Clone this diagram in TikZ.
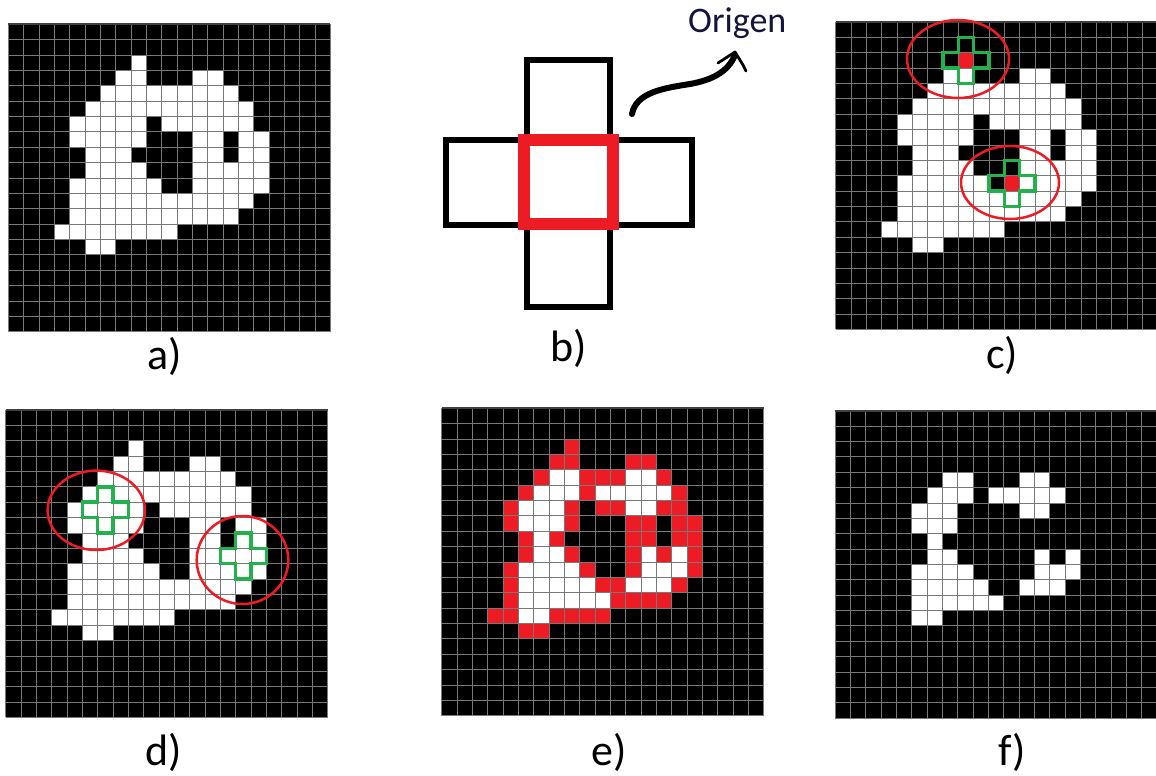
\documentclass[tikz,border=0pt]{standalone}
\usepackage{fontspec}
\setmainfont{Carlito}
\definecolor{pred}{HTML}{ED1C24}
\definecolor{pgreen}{HTML}{22B14C}
\definecolor{gridc}{HTML}{787878}
\definecolor{origc}{HTML}{14143C}
\tikzset{
  gridline/.style={draw=gridc, line width=0.8pt},
  topline/.style={draw=black!75, line width=2pt},
  lab/.style={font=\fontsize{44}{50}\selectfont, anchor=base, inner sep=0pt},
  crossline/.style={draw=pgreen, line width=3.5pt, line join=miter},
  ring/.style={draw=pred, line width=2.5pt},
  boxline/.style={draw=black, line width=6.7pt},
  redbox/.style={draw=pred, line width=11.7pt},
}
\newcommand\shapeA{2/8/8,3/7/8,3/12/13,4/6/14,5/5/15,6/4/8,6/10/15,7/4/8,7/12/13,7/15/16,8/5/7,8/12/13,8/15/16,9/5/8,9/12/16,10/4/9,10/12/16,11/4/15,12/4/14,13/3/10,14/5/6}
\newcommand\shapeE{4/7/8,4/12/13,5/6/8,5/10/14,6/5/7,6/12/13,7/5/7,8/6/6,9/6/7,9/13/13,9/15/15,10/5/8,10/13/15,11/5/9,11/12/14,12/5/10,13/5/6}
\newcommand\gridbase{\fill[black] (0,0) rectangle (21,20);}
\newcommand\gridlines{%
  \foreach \i in {0,...,21} \draw[gridline] (\i,0)--(\i,20);
  \foreach \j in {0,...,20} \draw[gridline] (0,\j)--(21,\j);
  \draw[topline] (0,0)--(21,0);}
\newcommand\cells[2]{\foreach \r/\a/\b in #2 {\fill[#1] (\a,\r) rectangle ({\b+1},{\r+1});}}
\newcommand\crossat[2]{%
  \draw[crossline] (#1,#2-1) -- ++(1,0) -- ++(0,1) -- ++(1,0) -- ++(0,1) -- ++(-1,0) -- ++(0,1) -- ++(-1,0) -- ++(0,-1) -- ++(-1,0) -- ++(0,-1) -- ++(1,0) -- cycle;}
\begin{document}
\begin{tikzpicture}[x=1pt,y=-1pt]
\useasboundingbox (0,0) rectangle (1156,776);
\fill[white] (0,0) rectangle (1156,776);
\clip (0,0) rectangle (1156,776);

% a)
\begin{scope}[shift={(8.3pt,-24.3pt)}, x=15.33pt, y=-15.37pt]
  \gridbase \cells{white}{\shapeA} \gridlines
\end{scope}
\node[lab] (la) at (165,369) {a)};

% b)
\draw[boxline] (527,60) rectangle (610,140);
\draw[boxline] (446,140) rectangle (525,225);
\draw[boxline] (611,140) rectangle (692,225);
\draw[boxline] (527,224) rectangle (610,307);
\draw[redbox] (524,140) rectangle (613,224);
\node[font=\fontsize{36}{40}\selectfont, text=origc, anchor=base west, inner sep=0pt] (origen) at (688,33) {Origen};
\coordinate (arrS) at (632,114);
\coordinate (arrE) at (735,55);
\draw[line width=6pt, line cap=round] (arrS) .. controls (636,92) and (665,88) .. (690,84) .. controls (712,80) and (728,72) .. (arrE);
\draw[line width=2.8pt, line cap=round, line join=round] (718,63) -- (735,52) -- (743,65) -- (746,71);
\node[lab] (lb) at (569,361) {b)};

% c)
\begin{scope}[shift={(835.7pt,-22pt)}, x=15.33pt, y=-15.37pt]
  \gridbase \cells{white}{\shapeA}
  \fill[pred] (8,2) rectangle (9,3);
  \fill[pred] (11,10) rectangle (12,11);
  \gridlines
  \crossat{8}{2}
  \crossat{11}{10}
\end{scope}
\draw[ring] (958,59) ellipse [x radius=51pt, y radius=39pt];
\draw[ring] (1010,182.5) ellipse [x radius=49pt, y radius=36.5pt];
\node[lab] (lc) at (1002,368) {c)};

% d)
\begin{scope}[shift={(5.7pt,-410pt)}, x=15.33pt, y=-15.37pt]
  \gridbase \cells{white}{\shapeA} \gridlines
  \crossat{6}{6}
  \crossat{15}{9}
\end{scope}
\draw[ring] (96.3,510.3) ellipse [x radius=48.7pt, y radius=39.7pt];
\draw[ring] (242.5,560) ellipse [x radius=45.8pt, y radius=44pt];
\node[lab] (ld) at (164,765) {d)};

% e)
\begin{scope}[shift={(441.7pt,-408.3pt)}, x=15.33pt, y=-15.37pt]
  \gridbase \cells{pred}{\shapeA} \cells{white}{\shapeE} \gridlines
\end{scope}
\node[lab] (le) at (609,765) {e)};

% f)
\begin{scope}[shift={(835pt,-410.7pt)}, x=15.33pt, y=-15.37pt]
  \gridbase \cells{white}{\shapeE} \gridlines
\end{scope}
\node[lab] (lf) at (1012,765) {f)};
\end{tikzpicture}
\end{document}
